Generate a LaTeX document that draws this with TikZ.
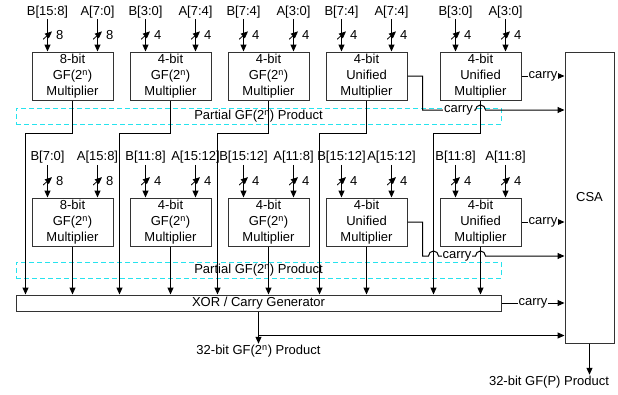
\documentclass[tikz,border=0pt]{standalone}
\usepackage{fontspec}
\setmainfont{Liberation Sans}
\usepackage{tikz}
\usetikzlibrary{arrows.meta,positioning,calc}
\definecolor{PartCyan}{HTML}{27E3EE}
\definecolor{BoxGray}{HTML}{333333}
\newcommand{\diafont}{\fontsize{13}{16}\selectfont}
\tikzset{
  mult/.style={draw=BoxGray, line width=1pt, align=center, inner sep=0pt,
    minimum width=81pt, minimum height=48pt, font=\diafont},
  csabox/.style={draw=BoxGray, line width=1pt, minimum width=49pt,
    minimum height=291pt, font=\diafont},
  xorbox/.style={draw=BoxGray, line width=1pt, inner sep=0pt,
    minimum width=485pt, minimum height=16pt, font=\diafont},
  partial/.style={draw=PartCyan, line width=1pt, dash pattern=on 5pt off 3pt,
    inner sep=0pt, minimum width=485pt, minimum height=16pt, font=\diafont},
  busin/.style={inner sep=1pt, font=\diafont},
  busmark/.style={inner sep=0pt, minimum width=9pt, minimum height=8pt,
    path picture={\draw[line width=0.8pt] (path picture bounding box.south west)
      -- (path picture bounding box.north east);},
    label={[busin, label distance=2pt]right:#1}},
  wire/.style={-{Triangle[length=7pt,width=6pt]}, line width=1pt},
  lbl/.style={fill=white, inner sep=1pt, font=\diafont}
}
\begin{document}
\begin{tikzpicture}[x=1pt, y=1pt]
  \useasboundingbox (0,0) rectangle (618,-394);

  % multipliers
  \node[mult] (m1) at (72.5,-76) {8-bit\\GF(2\textsuperscript{n})\\Multiplier};
  \node[mult, right=16pt of m1] (m2) {4-bit\\GF(2\textsuperscript{n})\\Multiplier};
  \node[mult, right=16pt of m2] (m3) {4-bit\\GF(2\textsuperscript{n})\\Multiplier};
  \node[mult, right=16pt of m3] (m4) {4-bit\\Unified\\Multiplier};
  \node[mult, right=32pt of m4] (m5) {4-bit\\Unified\\Multiplier};
  \node[mult, below=97pt of m1] (n1) {8-bit\\GF(2\textsuperscript{n})\\Multiplier};
  \node[mult, below=97pt of m2] (n2) {4-bit\\GF(2\textsuperscript{n})\\Multiplier};
  \node[mult, below=97pt of m3] (n3) {4-bit\\GF(2\textsuperscript{n})\\Multiplier};
  \node[mult, below=97pt of m4] (n4) {4-bit\\Unified\\Multiplier};
  \node[mult, below=97pt of m5] (n5) {4-bit\\Unified\\Multiplier};

  \node[csabox] (csa) at (589.5,-197.5) {CSA};
  \node[xorbox] (xor) at (258.5,-303) {XOR / Carry Generator};
  \node[partial] (p1) at (258.5,-116) {Partial GF(2\textsuperscript{n}) Product};
  \node[partial] (p2) at (258.5,-270) {Partial GF(2\textsuperscript{n}) Product};

  % operand inputs
  \node[busin] (b1) at ($(m1.north west)+(16,39.5)$) {B[15:8]};
  \node[busin] (a1) at ($(m1.north east)+(-16,39.5)$) {A[7:0]};
  \node[busin] (b2) at ($(m2.north west)+(16,39.5)$) {B[3:0]};
  \node[busin] (a2) at ($(m2.north east)+(-16,39.5)$) {A[7:4]};
  \node[busin] (b3) at ($(m3.north west)+(16,39.5)$) {B[7:4]};
  \node[busin] (a3) at ($(m3.north east)+(-16,39.5)$) {A[3:0]};
  \node[busin] (b4) at ($(m4.north west)+(16,39.5)$) {B[7:4]};
  \node[busin] (a4) at ($(m4.north east)+(-16,39.5)$) {A[7:4]};
  \node[busin] (b5) at ($(m5.north west)+(16,39.5)$) {B[3:0]};
  \node[busin] (a5) at ($(m5.north east)+(-16,39.5)$) {A[3:0]};
  \node[busin] (d1) at ($(n1.north west)+(16,40)$) {B[7:0]};
  \node[busin] (c1) at ($(n1.north east)+(-16,40)$) {A[15:8]};
  \node[busin] (d2) at ($(n2.north west)+(16,40)$) {B[11:8]};
  \node[busin] (c2) at ($(n2.north east)+(-16,40)$) {A[15:12]};
  \node[busin] (d3) at ($(n3.north west)+(16,40)$) {B[15:12]};
  \node[busin] (c3) at ($(n3.north east)+(-16,40)$) {A[11:8]};
  \node[busin] (d4) at ($(n4.north west)+(16,40)$) {B[15:12]};
  \node[busin] (c4) at ($(n4.north east)+(-16,40)$) {A[15:12]};
  \node[busin] (d5) at ($(n5.north west)+(16,40)$) {B[11:8]};
  \node[busin] (c5) at ($(n5.north east)+(-16,40)$) {A[11:8]};

  \draw[wire] (b1) -- node[busmark=8] {} (b1 |- m1.north);
  \draw[wire] (a1) -- node[busmark=8] {} (a1 |- m1.north);
  \draw[wire] (b2) -- node[busmark=4] {} (b2 |- m2.north);
  \draw[wire] (a2) -- node[busmark=4] {} (a2 |- m2.north);
  \draw[wire] (b3) -- node[busmark=4] {} (b3 |- m3.north);
  \draw[wire] (a3) -- node[busmark=4] {} (a3 |- m3.north);
  \draw[wire] (b4) -- node[busmark=4] {} (b4 |- m4.north);
  \draw[wire] (a4) -- node[busmark=4] {} (a4 |- m4.north);
  \draw[wire] (b5) -- node[busmark=4] {} (b5 |- m5.north);
  \draw[wire] (a5) -- node[busmark=4] {} (a5 |- m5.north);
  \draw[wire] (d1) -- node[busmark=8] {} (d1 |- n1.north);
  \draw[wire] (c1) -- node[busmark=8] {} (c1 |- n1.north);
  \draw[wire] (d2) -- node[busmark=4] {} (d2 |- n2.north);
  \draw[wire] (c2) -- node[busmark=4] {} (c2 |- n2.north);
  \draw[wire] (d3) -- node[busmark=4] {} (d3 |- n3.north);
  \draw[wire] (c3) -- node[busmark=4] {} (c3 |- n3.north);
  \draw[wire] (d4) -- node[busmark=4] {} (d4 |- n4.north);
  \draw[wire] (c4) -- node[busmark=4] {} (c4 |- n4.north);
  \draw[wire] (d5) -- node[busmark=4] {} (d5 |- n5.north);
  \draw[wire] (c5) -- node[busmark=4] {} (c5 |- n5.north);

  % partial products into the XOR
  \draw[wire] (m1.south) -- ++(0,-33) -| ($(n1.west |- xor.north)+(-6,0)$);
  \draw[wire] (m2.south) -- ++(0,-33) -| ($(n2.west |- xor.north)+(-10,0)$);
  \draw[wire] (m3.south) -- ++(0,-33) -| ($(n3.west |- xor.north)+(-10,0)$);
  \draw[wire] (m4.south) -- ++(0,-33) -| ($(n4.west |- xor.north)+(-6,0)$);
  \draw[wire] (m5.south) -- ++(0,-33) -| ($(n5.west |- xor.north)+(-6,0)$);
  \draw[wire] (n1.south) -- (n1 |- xor.north);
  \draw[wire] (n2.south) -- (n2 |- xor.north);
  \draw[wire] (n3.south) -- (n3 |- xor.north);
  \draw[wire] (n4.south) -- (n4 |- xor.north);
  \draw[wire] (n5.south) -- (n5 |- xor.north);

  % carries into the CSA
  \draw[wire] (m5.east) -- node[lbl] {carry} (csa.west |- m5.east);
  \draw[wire] (n5.east) -- node[lbl] {carry} (csa.west |- n5.east);
  \draw[wire] (xor.east) -- node[lbl] {carry} (csa.west |- xor.east);
  \coordinate (t4) at ($(m4.east)+(15,-34)$);
  \draw[wire] (m4.east) -| (t4) -- node[lbl, pos=0.68] {carry} ($(t4 -| m5.south)+(-5,0)$)
    arc[start angle=180, end angle=0, radius=5] -- (csa.west |- t4);
  \coordinate (u4) at ($(n4.east)+(15,-34)$);
  \draw[wire] (n4.east) -| (u4) -- ($(u4 -| n5.west)+(-11,0)$)
    arc[start angle=180, end angle=0, radius=5] -- node[lbl] {carry} ($(u4 -| n5.south)+(-5,0)$)
    arc[start angle=180, end angle=0, radius=5] -- (csa.west |- u4);

  % products
  \node[busin] (gfout) at (258.5,-351) {32-bit GF(2\textsuperscript{n}) Product};
  \draw[wire] (xor.south) -- (gfout.north);
  \coordinate (tap) at ($(xor.south)+(0,-24)$);
  \draw[wire] (tap) -- (csa.west |- tap);
  \node[busin] (pout) at (549,-382) {32-bit GF(P) Product};
  \draw[wire] (csa.south) -- (csa.south |- pout.north);
\end{tikzpicture}
\end{document}
